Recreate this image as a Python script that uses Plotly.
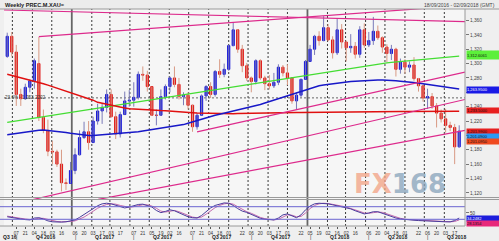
import plotly.graph_objects as go
import pandas as pd

W, H = 499, 241

# ---------------- data ----------------
week_dates = pd.date_range("2016-09-23", periods=101, freq="7D")  # weekly candles (Friday)

opens = [1310, 1338, 1316, 1257, 1251, 1267, 1276, 1300, 1225, 1207,
         1178, 1177, 1160, 1134, 1133, 1151, 1173, 1197, 1205, 1190,
         1220, 1234, 1239, 1257, 1226, 1202, 1229, 1248, 1249, 1253,
         1285, 1284, 1268, 1228, 1228, 1254, 1268, 1280, 1271, 1254,
         1256, 1242, 1212, 1228, 1255, 1268, 1257, 1289, 1285, 1292,
         1325, 1347, 1320, 1297, 1280, 1275, 1304, 1280, 1272, 1269,
         1274, 1295, 1287, 1280, 1248, 1256, 1278, 1303, 1320, 1338,
         1332, 1350, 1333, 1315, 1347, 1330, 1322, 1324, 1313, 1347,
         1326, 1332, 1345, 1336, 1323, 1314, 1320, 1292, 1302, 1295,
         1298, 1279, 1269, 1252, 1254, 1241, 1231, 1223, 1214, 1211,
         1184]
highs = [1343, 1344, 1326, 1265, 1272, 1278, 1307, 1337, 1236, 1222,
         1192, 1180, 1180, 1140, 1163, 1182, 1207, 1219, 1220, 1226,
         1244, 1245, 1264, 1264, 1233, 1233, 1261, 1263, 1274, 1289,
         1296, 1290, 1268, 1236, 1264, 1271, 1282, 1296, 1280, 1260,
         1260, 1243, 1231, 1257, 1270, 1274, 1291, 1306, 1300, 1326,
         1357, 1348, 1326, 1301, 1282, 1306, 1306, 1283, 1284, 1287,
         1299, 1298, 1299, 1280, 1260, 1279, 1305, 1326, 1340, 1345,
         1366, 1355, 1338, 1362, 1355, 1332, 1341, 1330, 1352, 1356,
         1344, 1365, 1353, 1338, 1327, 1326, 1322, 1307, 1306, 1303,
         1309, 1280, 1270, 1265, 1259, 1245, 1236, 1237, 1219, 1216,
         1214]
lows = [1308, 1310, 1241, 1241, 1250, 1260, 1265, 1220, 1203, 1171,
        1160, 1156, 1122, 1124, 1133, 1146, 1172, 1195, 1180, 1190,
        1215, 1216, 1232, 1225, 1195, 1197, 1229, 1240, 1240, 1250,
        1276, 1261, 1227, 1214, 1227, 1250, 1260, 1267, 1250, 1242,
        1236, 1205, 1208, 1228, 1248, 1252, 1254, 1280, 1281, 1290,
        1324, 1315, 1288, 1276, 1260, 1271, 1277, 1263, 1264, 1266,
        1270, 1282, 1270, 1244, 1236, 1253, 1278, 1303, 1312, 1325,
        1331, 1331, 1307, 1312, 1321, 1303, 1315, 1307, 1308, 1322,
        1323, 1326, 1333, 1315, 1302, 1305, 1282, 1286, 1286, 1288,
        1276, 1261, 1247, 1237, 1237, 1211, 1218, 1204, 1206, 1160,
        1183]
closes = [1338, 1316, 1257, 1251, 1267, 1276, 1304, 1225, 1207, 1178,
          1177, 1160, 1134, 1133, 1151, 1173, 1197, 1205, 1190, 1220,
          1234, 1239, 1257, 1226, 1202, 1229, 1248, 1249, 1253, 1285,
          1284, 1268, 1228, 1228, 1254, 1268, 1280, 1271, 1254, 1256,
          1242, 1212, 1228, 1255, 1268, 1257, 1289, 1285, 1292, 1325,
          1347, 1320, 1297, 1280, 1275, 1304, 1280, 1272, 1269, 1274,
          1295, 1287, 1280, 1248, 1256, 1278, 1303, 1320, 1338, 1332,
          1350, 1333, 1315, 1347, 1330, 1322, 1324, 1313, 1347, 1326,
          1332, 1345, 1336, 1323, 1314, 1320, 1292, 1302, 1295, 1298,
          1279, 1269, 1252, 1254, 1241, 1231, 1223, 1214, 1211, 1184,
          1206]

ma_blue = [1201, 1202, 1203, 1204, 1205, 1206, 1206.5, 1207, 1207.5, 1207,
           1206.5, 1206, 1205, 1204, 1203, 1202, 1201, 1200.5, 1200, 1200,
           1200.5, 1200.5, 1201, 1201, 1201.5, 1202, 1202.5, 1203.5, 1204, 1205,
           1206, 1207, 1207.5, 1208, 1209, 1210, 1211, 1212, 1213.5, 1215,
           1217, 1219, 1221, 1223, 1225, 1226.5, 1228, 1229.5, 1231, 1232,
           1233, 1234.5, 1236, 1237.5, 1239, 1241, 1243, 1245, 1247, 1249.5,
           1252, 1254, 1256, 1258, 1260, 1262, 1264, 1266, 1267.5, 1269,
           1270, 1271, 1272, 1273, 1274, 1274.5, 1275, 1275.5, 1276, 1276.5,
           1277, 1277, 1277, 1277, 1277, 1276.5, 1276, 1275.5, 1275, 1274.5,
           1273.5, 1273, 1272, 1271, 1270, 1269, 1268, 1267, 1266, 1265,
           1264.5]
ma_red = [1285, 1283.5, 1282, 1280.5, 1279, 1277.5, 1276, 1274, 1272, 1270,
          1268, 1266, 1264, 1261.5, 1259, 1257, 1255, 1253, 1251, 1249,
          1246, 1244.5, 1243, 1241.5, 1240, 1239, 1238, 1237, 1236.5, 1236,
          1235.5, 1235.3, 1235, 1234.8, 1234.5, 1234.3, 1234, 1233.5, 1233, 1232.5,
          1232, 1231.5, 1231, 1230.8, 1230.6, 1230.4, 1230.2, 1230, 1230, 1230,
          1230.2, 1230.4, 1230.6, 1230.8, 1231, 1231.1, 1231.2, 1231.3, 1231.4, 1231.5,
          1231.6, 1231.7, 1231.8, 1231.9, 1232, 1232, 1232.1, 1232.1, 1232.2, 1232.2,
          1232.3, 1232.3, 1232.4, 1232.4, 1232.5, 1232.5, 1232.6, 1232.6, 1232.7, 1232.7,
          1232.8, 1232.8, 1232.9, 1232.9, 1233, 1233, 1233, 1233.1, 1233.1, 1233.2,
          1233.2, 1233.2, 1233.3, 1233.3, 1233.3, 1233.4, 1233.4, 1233.4, 1233.5, 1233.5,
          1233.5]
ma_green = [1218, 1219, 1220, 1221, 1222, 1223, 1224, 1225, 1226, 1227,
            1228, 1229, 1230, 1231, 1232, 1233, 1234, 1235, 1236, 1237,
            1238, 1239, 1240, 1241, 1242, 1243, 1244, 1245, 1246, 1247,
            1248, 1249, 1250, 1251, 1252, 1253, 1254, 1255, 1256, 1257,
            1258, 1259, 1260, 1261, 1262, 1263, 1264, 1265, 1266, 1267,
            1268, 1269, 1270, 1271, 1272, 1273, 1274, 1275, 1276, 1277,
            1278, 1279, 1280, 1281, 1282, 1283, 1284, 1285, 1286, 1287,
            1288, 1289, 1290, 1291, 1292, 1293, 1294, 1295, 1296, 1297,
            1298, 1299, 1299.7, 1300.3, 1301, 1301.6, 1302.2, 1302.8, 1303.4, 1304,
            1304.6, 1305.2, 1305.8, 1306.4, 1307, 1307.6, 1308.2, 1308.8, 1309.4, 1310,
            1310.5]

osc_main = [38, 35, 33, 31, 29, 28, 34, 35, 31, 25,
            22, 21, 21, 22, 24, 28, 36, 45, 55, 65,
            73, 79, 81, 79, 75, 70, 66, 69, 74, 77,
            78, 74, 69, 58, 51, 55, 60, 57, 50, 44,
            38, 35, 34, 42, 55, 66, 74, 79, 82, 81,
            74, 64, 56, 52, 45, 38, 33, 30, 28, 28,
            34, 44, 47, 40, 35, 44, 60, 72, 79, 81,
            81, 79, 76, 73, 70, 67, 63, 57, 51, 47,
            50, 54, 54, 49, 44, 38, 34, 31, 29, 28,
            27, 26, 25, 24, 24, 23, 23, 22, 22, 26,
            34]
osc_signal = [40, 37, 35, 33, 31, 29, 30, 33, 33, 29,
              25, 23, 22, 22, 23, 25, 30, 37, 46, 56,
              65, 72, 77, 79, 78, 74, 70, 68, 70, 74,
              76, 76, 72, 65, 56, 53, 56, 58, 54, 48,
              42, 37, 35, 37, 46, 57, 67, 74, 79, 81,
              78, 70, 61, 54, 49, 42, 36, 32, 29, 28,
              30, 38, 44, 43, 38, 39, 50, 64, 74, 79,
              81, 80, 78, 75, 72, 69, 65, 60, 55, 50,
              49, 51, 53, 52, 47, 42, 37, 33, 30, 29,
              28, 27, 26, 25, 24, 24, 23, 23, 22, 23,
              28]

# trend lines: (dates, prices)
trend_top_dates, trend_top_vals = ["2016-09-18", "2018-09-02"], [1374.6, 1358.3]
trend_up_dates, trend_up_vals = ["2016-11-11", "2018-09-02"], [1337.4, 1381.0]
trend_c1_dates, trend_c1_vals = ["2017-07-14", "2018-09-02"], [1205.0, 1288.0]
trend_d1_dates, trend_d1_vals = ["2016-10-30", "2018-09-02"], [1110.0, 1250.0]
trend_d2_dates, trend_d2_vals = ["2017-02-11", "2018-09-02"], [1110.9, 1207.0]
fib_level = 1252.2202

price_ticks = [1120, 1140, 1160, 1180, 1200, 1220, 1240, 1260, 1280, 1300, 1320, 1340, 1360]
hidden_ticks = [1200, 1260]  # covered by the value boxes in the reference

day_label_dates = ["2016-10-07", "2016-10-21", "2016-11-04", "2016-11-18", "2016-12-02", "2016-12-16",
                   "2017-01-06", "2017-01-20", "2017-02-03", "2017-02-17", "2017-03-03", "2017-03-17",
                   "2017-04-07", "2017-04-21", "2017-05-05", "2017-05-19", "2017-06-02", "2017-06-16",
                   "2017-07-07", "2017-07-21", "2017-08-04", "2017-08-18", "2017-09-01", "2017-09-22",
                   "2017-10-06", "2017-10-20", "2017-11-03", "2017-11-17", "2017-12-01", "2017-12-22",
                   "2018-01-05", "2018-01-19", "2018-02-02", "2018-02-16", "2018-03-02", "2018-03-16",
                   "2018-04-06", "2018-04-20", "2018-05-04", "2018-05-18", "2018-06-01", "2018-06-22",
                   "2018-07-06", "2018-07-20", "2018-08-03", "2018-08-17"]
quarter_names = ["Q4 2016", "Q1 2017", "Q2 2017", "Q3 2017", "Q4 2017", "Q1 2018", "Q2 2018", "Q3 2018"]
quarter_first_label = ["2016-10-07", "2017-01-06", "2017-04-07", "2017-07-07",
                       "2017-10-06", "2018-01-05", "2018-04-06", "2018-07-06"]
month_starts = pd.date_range("2016-10-01", "2018-08-01", freq="MS")
year_starts = ["2017-01-01", "2018-01-01"]

# ---------------- helpers ----------------
def py(px):  # pixel row -> paper y
    return 1 - px / H

def pxx(px):
    return px / W

X0, X1 = 4, 465
P_TOP, P_BOT = 9, 199
O_TOP, O_BOT = 199, 226

fig = go.Figure()

# wicks
wx_up, wy_up, wx_dn, wy_dn = [], [], [], []
for d, o, h, l, c in zip(week_dates, opens, highs, lows, closes):
    if c >= o:
        wx_up += [d, d, None]; wy_up += [l, h, None]
    else:
        wx_dn += [d, d, None]; wy_dn += [l, h, None]
fig.add_trace(go.Scatter(x=wx_up, y=wy_up, mode="lines", line=dict(color="#7a7ab8", width=1),
                         hoverinfo="skip", showlegend=False))
fig.add_trace(go.Scatter(x=wx_dn, y=wy_dn, mode="lines", line=dict(color="#d89a84", width=1),
                         hoverinfo="skip", showlegend=False))
# bodies
fig.add_trace(go.Candlestick(
    x=week_dates, open=opens, close=closes,
    high=[max(o, c) for o, c in zip(opens, closes)],
    low=[min(o, c) for o, c in zip(opens, closes)],
    increasing=dict(line=dict(color="#1c1cd8", width=1), fillcolor="#1c1cd8"),
    decreasing=dict(line=dict(color="#e01818", width=1), fillcolor="#e01818"),
    whiskerwidth=0, showlegend=False, hoverinfo="skip"))

# moving averages
fig.add_trace(go.Scatter(x=week_dates, y=ma_green, mode="lines", line=dict(color="#44dd33", width=1.3),
                         showlegend=False, hoverinfo="skip"))
fig.add_trace(go.Scatter(x=week_dates, y=ma_red, mode="lines", line=dict(color="#e01010", width=1.5),
                         showlegend=False, hoverinfo="skip"))
fig.add_trace(go.Scatter(x=week_dates, y=ma_blue, mode="lines", line=dict(color="#1818c8", width=1.5),
                         showlegend=False, hoverinfo="skip"))

# trend lines
for xs, ys in [(trend_top_dates, trend_top_vals), (trend_up_dates, trend_up_vals),
               (trend_c1_dates, trend_c1_vals), (trend_d1_dates, trend_d1_vals),
               (trend_d2_dates, trend_d2_vals)]:
    fig.add_trace(go.Scatter(x=xs, y=ys, mode="lines", line=dict(color="#dd2a8c", width=1.2),
                             showlegend=False, hoverinfo="skip"))

# oscillator
fig.add_trace(go.Scatter(x=week_dates, y=osc_signal, mode="lines", line=dict(color="#c46aae", width=1),
                         xaxis="x2", yaxis="y2", showlegend=False, hoverinfo="skip"))
fig.add_trace(go.Scatter(x=week_dates, y=osc_main, mode="lines", line=dict(color="#4a3c9c", width=1),
                         xaxis="x2", yaxis="y2", showlegend=False, hoverinfo="skip"))

shapes = []
# month grid lines
for m in month_starts:
    if m.strftime("%Y-%m-%d") in year_starts:
        continue
    shapes.append(dict(type="line", xref="x", yref="paper", x0=m, x1=m, y0=py(O_BOT), y1=py(P_TOP),
                       line=dict(color="#3a3a3a", width=1, dash="2px,2px"), layer="below"))
for ys_ in year_starts:
    shapes.append(dict(type="line", xref="x", yref="paper", x0=ys_, x1=ys_, y0=py(O_BOT), y1=py(P_TOP),
                       line=dict(color="#666666", width=1.8), layer="below"))
# fib line
shapes.append(dict(type="line", xref="paper", yref="y", x0=pxx(X0), x1=pxx(X1), y0=fib_level, y1=fib_level,
                   line=dict(color="#666666", width=1, dash="2px,2px"), layer="below"))
# osc levels
for lv in (70, 30):
    shapes.append(dict(type="line", xref="paper", yref="y2", x0=0, x1=pxx(X1), y0=lv, y1=lv,
                       line=dict(color="#6a64d0", width=1)))
# frames
shapes.append(dict(type="rect", xref="paper", yref="paper", x0=0, x1=1, y0=py(P_TOP), y1=1,
                   fillcolor="#ececec", line=dict(width=0), layer="below"))
shapes.append(dict(type="line", xref="paper", yref="paper", x0=0, x1=1, y0=py(P_TOP), y1=py(P_TOP),
                   line=dict(color="#9a9a9a", width=1)))
shapes.append(dict(type="line", xref="paper", yref="paper", x0=0, x1=1, y0=py(197.5), y1=py(197.5),
                   line=dict(color="#9a9a9a", width=1)))
shapes.append(dict(type="line", xref="paper", yref="paper", x0=0, x1=1, y0=py(199.5), y1=py(199.5),
                   line=dict(color="#9a9a9a", width=1)))
shapes.append(dict(type="line", xref="paper", yref="paper", x0=pxx(X1), x1=pxx(X1), y0=py(O_BOT), y1=py(P_TOP),
                   line=dict(color="#9a9a9a", width=1)))
shapes.append(dict(type="line", xref="paper", yref="paper", x0=0, x1=pxx(X1), y0=py(O_BOT), y1=py(O_BOT),
                   line=dict(color="#9a9a9a", width=1)))

ann = []
ann.append(dict(text="<b>Weekly PREC.M.XAU=</b>", xref="paper", yref="paper", x=pxx(3), y=py(4.5),
                xanchor="left", yanchor="middle", showarrow=False, font=dict(size=5.6, color="#222")))
ann.append(dict(text="18/09/2016 - 02/09/2018 (GMT)", xref="paper", yref="paper", x=pxx(497), y=py(5),
                xanchor="right", yanchor="middle", showarrow=False, font=dict(size=5, color="#444")))
ann.append(dict(text="23.6% - 1,252.2202", xref="paper", yref="y", x=pxx(3), y=fib_level,
                xanchor="left", yanchor="middle", showarrow=False, font=dict(size=4.6, color="#333")))
# right-side value boxes
boxes = [("1,312.6061", 55, 8, "#5cf03a", "#111"),
         ("1,263.9500", 90, 5.5, "#1a1ae6", "#ffffff"),
         ("1,233.5000", 111, 5, "#e82020", "#111"),
         ("1,201.9900", 131.0, 4.6, "#e62020", "#111"),
         ("1,201.0900", 136.0, 4.6, "#2a9af5", "#111"),
         ("1,201.0950", 141.0, 4.6, "#f04a20", "#111"),
         ("34.2482", 218.0, 4.6, "#1d1ddc", "#ffffff"),
         ("28.1354", 223.2, 4.6, "#e8287a", "#111")]
for txt, ypx, hh, bg, fc in boxes:
    ann.append(dict(text=txt, xref="paper", yref="paper", x=pxx(466), y=py(ypx), xanchor="left",
                    yanchor="middle", showarrow=False, font=dict(size=4.0, color=fc), bgcolor=bg,
                    width=32, height=hh, align="left", borderpad=0))
# quarter row
qy = py(236.5)
ann.append(dict(text="<b>Q3 16</b>", xref="paper", yref="paper", x=pxx(1), y=qy, xanchor="left",
                yanchor="middle", showarrow=False, font=dict(size=5, color="#222")))
for name, fl in zip(quarter_names, quarter_first_label):
    d = pd.Timestamp(fl)
    ann.append(dict(text="|", xref="x", yref="paper", x=d, y=qy, xanchor="center", yanchor="middle",
                    showarrow=False, font=dict(size=5, color="#222")))
    ann.append(dict(text="<b>" + name + "</b>", xref="x", yref="paper", x=d + pd.Timedelta(days=45), y=qy,
                    xanchor="center", yanchor="middle", showarrow=False, font=dict(size=5, color="#222")))
# watermark
ann.append(dict(text="<b><span style='color:#f3a183'>FX</span><span style='color:#86a3ba'>168</span></b>",
                xref="paper", yref="paper", x=pxx(400), y=py(184), xanchor="center", yanchor="middle",
                showarrow=False, font=dict(size=26, family="DejaVu Sans"), opacity=0.75))

fig.update_layout(
    width=W, height=H, margin=dict(l=0, r=0, t=0, b=0),
    paper_bgcolor="#efefef", plot_bgcolor="#f6f6f6",
    font=dict(family="Liberation Sans, Arial, sans-serif"),
    showlegend=False, shapes=shapes, annotations=ann,
    xaxis=dict(type="date", domain=[pxx(X0), pxx(X1)], range=["2016-09-18", "2018-09-02"],
               showgrid=False, showticklabels=False, zeroline=False, rangeslider=dict(visible=False),
               anchor="y", fixedrange=True),
    yaxis=dict(domain=[py(P_BOT), py(P_TOP)], range=[1111.4, 1376], side="right", anchor="x",
               tickvals=price_ticks,
               ticktext=["" if v in hidden_ticks else f"{v:,}" for v in price_ticks],
               ticks="outside", ticklen=3, tickcolor="#777", tickfont=dict(size=4.8, color="#444"),
               showgrid=False, zeroline=False),
    xaxis2=dict(type="date", domain=[pxx(X0), pxx(X1)], range=["2016-09-18", "2018-09-02"],
                matches="x", anchor="y2", showgrid=False, zeroline=False,
                tickvals=day_label_dates, ticktext=[s[-2:] for s in day_label_dates],
                ticks="outside", ticklen=2, tickcolor="#555", tickfont=dict(size=4.6, color="#333"),
                tickangle=0),
    yaxis2=dict(domain=[py(O_BOT), py(O_TOP)], range=[8.7, 94.4], side="right", anchor="x2",
                tickvals=[50], ticktext=["50"], ticks="outside", ticklen=3, tickcolor="#777",
                tickfont=dict(size=4.5, color="#333"), showgrid=False, zeroline=False),
)

fig.write_html("out.html")
